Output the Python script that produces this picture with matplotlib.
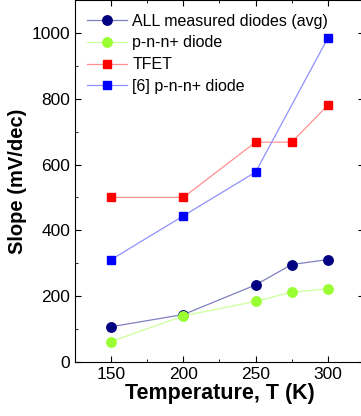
import matplotlib
matplotlib.use("Agg")
import matplotlib.pyplot as plt
from matplotlib.ticker import MultipleLocator

plt.rcParams['font.family'] = ['Liberation Sans', 'DejaVu Sans']

temp_all = [150, 200, 250, 275, 300]
slope_all = [107, 144, 234, 296, 311]

temp_pnn = [150, 200, 250, 275, 300]
slope_pnn = [62, 140, 184, 212, 222]

temp_tfet = [150, 200, 250, 275, 300]
slope_tfet = [500, 500, 668, 668, 780]

temp_ref6 = [150, 200, 250, 300]
slope_ref6 = [311, 444, 577, 984]

fig = plt.figure(figsize=(3.61, 4.16), dpi=100)
ax = fig.add_axes([0.208, 0.13, 0.80, 0.87])

ax.plot(temp_all, slope_all, color='#8080c0', lw=0.9, marker='o', ms=6.8,
        mfc='#000080', mec='#000080', label='ALL measured diodes (avg)')
ax.plot(temp_pnn, slope_pnn, color='#ccff99', lw=0.9, marker='o', ms=6.8,
        mfc='#99ff33', mec='#99ff33', label='p-n-n+ diode')
ax.plot(temp_tfet, slope_tfet, color='#ff9090', lw=0.9, marker='s', ms=6.2,
        mfc='#ff0000', mec='#ff0000', label='TFET')
ax.plot(temp_ref6, slope_ref6, color='#9090ff', lw=0.9, marker='s', ms=6.2,
        mfc='#0000ff', mec='#0000ff', label='[6] p-n-n+ diode')

ax.set_xlim(125, 325)
ax.set_ylim(0, 1100)
ax.xaxis.set_major_locator(MultipleLocator(50))
ax.xaxis.set_minor_locator(MultipleLocator(25))
ax.yaxis.set_major_locator(MultipleLocator(200))
ax.yaxis.set_minor_locator(MultipleLocator(100))
ax.tick_params(which='both', direction='in', top=True, right=True, labelsize=12.5)
ax.tick_params(which='major', length=4)
ax.tick_params(which='minor', length=2.5)

ax.set_xlabel('Temperature, T (K)', fontsize=15.5, fontweight='bold', labelpad=1)
ax.set_ylabel('Slope (mV/dec)', fontsize=14.5, fontweight='bold', labelpad=3)

ax.legend(loc='upper left', frameon=False, fontsize=11.5, handlelength=2.5,
          borderaxespad=0, borderpad=0, labelspacing=0.42, handletextpad=0.35,
          bbox_to_anchor=(0.04, 0.962))

fig.savefig('out.png', dpi=100)
